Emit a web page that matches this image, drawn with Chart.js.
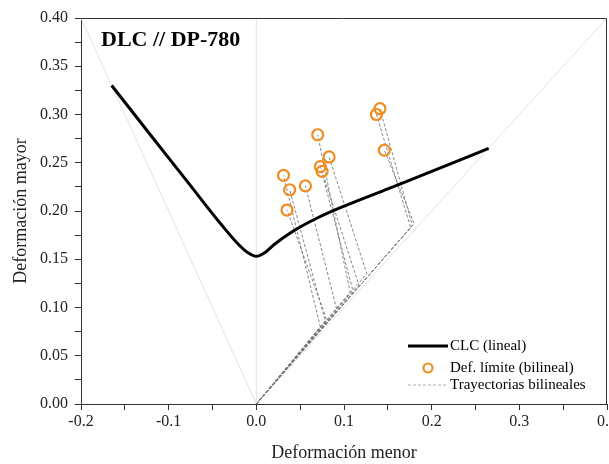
<!DOCTYPE html>
<html>
<head>
<meta charset="utf-8">
<script src="https://cdn.jsdelivr.net/npm/chart.js@4"></script>
<style>
    html, body { margin: 0; padding: 0; background: #fff; }
    #wrap { width: 609px; height: 464px; }
</style>
</head>
<body>
<div id="wrap"><canvas id="chart" width="609" height="464"></canvas></div>
<script>
// CLC curve (minor strain, major strain)
const clcX = [-0.165, -0.12, -0.08, -0.04, -0.02, -0.01, 0.0, 0.01, 0.02, 0.04, 0.07, 0.10, 0.15, 0.20, 0.265];
const clcY = [0.330, 0.278, 0.232, 0.186, 0.165, 0.157, 0.153, 0.157, 0.165, 0.178, 0.193, 0.205, 0.223, 0.241, 0.265];

// limit strains (bilinear)
const limX = [0.031, 0.038, 0.035, 0.056, 0.070, 0.073, 0.075, 0.083, 0.137, 0.141, 0.146];
const limY = [0.237, 0.222, 0.201, 0.226, 0.279, 0.246, 0.241, 0.256, 0.300, 0.306, 0.263];

// break points of the bilinear paths
const breakX = [0.073, 0.079, 0.080, 0.092, 0.107, 0.110, 0.117, 0.126, 0.176, 0.178, 0.180];
const breakY = [0.080, 0.085, 0.088, 0.097, 0.116, 0.118, 0.123, 0.135, 0.183, 0.185, 0.187];

// reference strain paths
const refLeftX = [0, -0.2];
const refLeftY = [0, 0.4];
const refRightX = [0, 0.4];
const refRightY = [0, 0.4];
const refMidX = [0, 0];
const refMidY = [0, 0.4];

const legendLabels = ['CLC (lineal)', 'Def. límite (bilineal)', 'Trayectorias bilineales'];
const chartTitle = 'DLC // DP-780';

const ORANGE = '#ef8d22';
const SERIF = '"Liberation Serif", "Times New Roman", serif';

const toPts = (xs, ys) => xs.map((x, i) => ({ x: x, y: ys[i] }));

const datasets = [];

// faint reference lines
[[refLeftX, refLeftY], [refRightX, refRightY], [refMidX, refMidY]].forEach(r => {
    datasets.push({
        data: toPts(r[0], r[1]),
        borderColor: '#e2e2e2',
        borderWidth: 1,
        pointRadius: 0,
        showLine: true,
        order: 4
    });
});

// bilinear trajectories
limX.forEach((x, i) => {
    datasets.push({
        data: [{ x: 0, y: 0 }, { x: breakX[i], y: breakY[i] }, { x: x, y: limY[i] }],
        borderColor: '#777',
        borderWidth: 0.9,
        borderDash: [3, 2],
        pointRadius: 0,
        showLine: true,
        order: 3
    });
});

// CLC
datasets.push({
    data: toPts(clcX, clcY),
    borderColor: '#000',
    borderWidth: 3,
    pointRadius: 0,
    showLine: true,
    tension: 0.4,
    cubicInterpolationMode: 'monotone',
    order: 2
});

// limit points
datasets.push({
    data: toPts(limX, limY),
    borderColor: ORANGE,
    backgroundColor: 'rgba(255,255,255,0)',
    borderWidth: 2.2,
    pointRadius: 5.5,
    showLine: false,
    order: 1
});

// frame, title and legend
const decorPlugin = {
    id: 'decor',
    afterDraw(chart) {
        const ctx = chart.ctx;
        const a = chart.chartArea;
        ctx.save();
        ctx.strokeStyle = '#333';
        ctx.lineWidth = 1;
        ctx.beginPath();
        ctx.moveTo(a.left, a.top + 0.5);
        ctx.lineTo(a.right - 0.5, a.top + 0.5);
        ctx.lineTo(a.right - 0.5, a.bottom);
        ctx.stroke();

        // title
        ctx.fillStyle = '#000';
        ctx.font = 'bold 22px ' + SERIF;
        ctx.textBaseline = 'alphabetic';
        ctx.fillText(chartTitle, a.left + 20, a.top + 28);

        // legend
        const lx = a.right - 199;
        const tx = lx + 42;
        const rows = [a.top + 328, a.top + 350, a.top + 367];
        ctx.font = '15px ' + SERIF;
        ctx.textBaseline = 'middle';

        ctx.strokeStyle = '#000';
        ctx.lineWidth = 3;
        ctx.beginPath();
        ctx.moveTo(lx, rows[0]);
        ctx.lineTo(lx + 40, rows[0]);
        ctx.stroke();

        ctx.strokeStyle = ORANGE;
        ctx.lineWidth = 2.2;
        ctx.beginPath();
        ctx.arc(lx + 20, rows[1], 4.5, 0, Math.PI * 2);
        ctx.stroke();

        ctx.strokeStyle = '#b0b0b0';
        ctx.lineWidth = 1;
        ctx.setLineDash([3, 2]);
        ctx.beginPath();
        ctx.moveTo(lx, rows[2]);
        ctx.lineTo(lx + 40, rows[2]);
        ctx.stroke();
        ctx.setLineDash([]);

        ctx.fillStyle = '#000';
        legendLabels.forEach((t, i) => ctx.fillText(t, tx, rows[i]));
        ctx.restore();
    }
};

const minorLabel = (v, unit, digits) => {
    const k = Math.round(v * 1000);
    if (k % unit !== 0) return '';
    return (Math.abs(v) < 1e-9 ? 0 : v).toFixed(digits);
};

new Chart(document.getElementById('chart'), {
    type: 'scatter',
    data: { datasets: datasets },
    options: {
        responsive: false,
        animation: false,
        layout: { autoPadding: false, padding: { top: 18, right: 2, left: 0, bottom: 0 } },
        plugins: {
            legend: { display: false },
            tooltip: { enabled: false }
        },
        scales: {
            x: {
                type: 'linear',
                min: -0.2,
                max: 0.4,
                grid: { drawOnChartArea: false, tickLength: 6, tickColor: '#333' },
                border: { color: '#333', width: 1 },
                ticks: {
                    stepSize: 0.05,
                    autoSkip: false,
                    maxRotation: 0,
                    padding: 2,
                    color: '#222',
                    font: { family: SERIF, size: 16 },
                    callback: v => minorLabel(v, 100, 1)
                },
                title: {
                    display: true,
                    text: 'Deformación menor',
                    color: '#222',
                    font: { family: SERIF, size: 18 },
                    padding: { top: 18, bottom: 0 }
                },
                afterFit: s => { s.height = 60; s.paddingLeft = 0; s.paddingRight = 0; }
            },
            y: {
                type: 'linear',
                min: 0,
                max: 0.4,
                grid: { drawOnChartArea: false, tickLength: 6, tickColor: '#333' },
                border: { color: '#333', width: 1 },
                ticks: {
                    stepSize: 0.025,
                    autoSkip: false,
                    padding: 7,
                    color: '#222',
                    font: { family: SERIF, size: 16 },
                    callback: v => minorLabel(v, 50, 2)
                },
                title: {
                    display: true,
                    text: 'Deformación mayor',
                    color: '#222',
                    font: { family: SERIF, size: 18 },
                    padding: { top: 10, bottom: 0 }
                },
                afterFit: s => { s.width = 81; s.paddingTop = 0; s.paddingBottom = 0; }
            }
        }
    },
    plugins: [decorPlugin]
});
</script>
</body>
</html>
